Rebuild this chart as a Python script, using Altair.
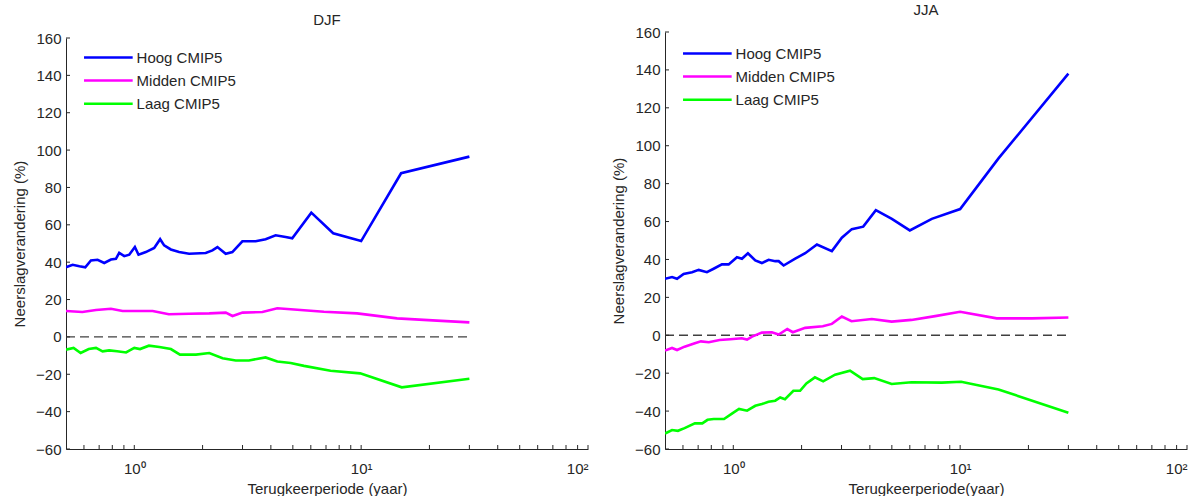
import altair as alt
import pandas as pd

FONT = "Liberation Sans"
TXT = "#262626"

SERIES = ["Hoog CMIP5", "Midden CMIP5", "Laag CMIP5"]
COLORS = ["#0000FF", "#FF00FF", "#00FF00"]

Y_TICKS = [-60, -40, -20, 0, 20, 40, 60, 80, 100, 120, 140, 160]
X_LABEL_TICKS = [1, 10, 100]
X_MINOR_TICKS = [0.6, 0.7, 0.8, 0.9, 1, 2, 3, 4, 5, 6, 7, 8, 9, 10,
                 20, 30, 40, 50, 60, 70, 80, 90, 100]
ZERO_X = [0.5, 30]
ZERO_Y = [0, 0]

# ---- DJF ----
djf_hoog_x = [0.50, 0.535, 0.573, 0.608, 0.644, 0.689, 0.737, 0.789, 0.830, 0.858,
              0.903, 0.950, 1.006, 1.044, 1.124, 1.224, 1.300, 1.354, 1.449, 1.576,
              1.744, 2.065, 2.21, 2.325, 2.529, 2.706, 2.995, 3.428, 3.793, 4.198,
              4.645, 4.97, 6.03, 7.53, 10.0, 15.0, 30.0]
djf_hoog_y = [37.3, 38.6, 37.8, 37.3, 40.9, 41.3, 39.6, 41.4, 41.8, 45.0,
              43.2, 44.0, 48.1, 44.0, 45.4, 47.6, 52.3, 49.0, 46.8, 45.4,
              44.5, 44.9, 46.3, 48.1, 44.5, 45.4, 51.2, 51.2, 52.3, 54.4,
              53.5, 52.8, 66.5, 55.5, 51.3, 87.6, 96.5]

djf_midden_x = [0.50, 0.59, 0.678, 0.789, 0.888, 1.01, 1.205, 1.42, 1.744, 2.14,
                2.53, 2.71, 3.0, 3.67, 4.27, 4.89, 6.85, 9.6, 14.4, 21.6, 30.0]
djf_midden_y = [13.9, 13.3, 14.4, 15.1, 13.9, 13.9, 13.9, 12.1, 12.4, 12.6,
                13.0, 11.2, 13.0, 13.3, 15.3, 14.8, 13.5, 12.6, 9.9, 8.7, 7.8]

djf_laag_x = [0.50, 0.54, 0.58, 0.63, 0.678, 0.725, 0.775, 0.84, 0.92, 1.0,
              1.06, 1.16, 1.29, 1.45, 1.59, 1.87, 2.14, 2.45, 2.8, 3.2,
              3.79, 4.27, 4.89, 5.6, 7.33, 9.9, 15.1, 30.0]
djf_laag_y = [-6.8, -5.9, -8.6, -6.5, -5.9, -7.7, -7.2, -7.7, -8.3, -5.9,
              -6.5, -4.7, -5.4, -6.5, -9.5, -9.5, -8.6, -11.4, -12.6, -12.6,
              -11.0, -13.2, -14.0, -15.5, -18.1, -19.5, -27.0, -22.4]

# ---- JJA ----
jja_hoog_x = [0.50, 0.537, 0.565, 0.604, 0.658, 0.704, 0.765, 0.819, 0.891, 0.954,
              1.038, 1.092, 1.16, 1.25, 1.337, 1.432, 1.531, 1.585, 1.667, 1.875,
              2.075, 2.337, 2.72, 3.01, 3.33, 3.74, 4.25, 5.0, 6.0, 7.5,
              10.0, 14.76, 30.0]
jja_hoog_y = [29.8, 30.7, 29.8, 32.4, 33.3, 34.5, 33.3, 35.1, 37.4, 37.4,
              41.2, 40.4, 43.3, 39.5, 38.1, 39.8, 39.1, 39.1, 36.8, 40.4,
              43.3, 47.9, 44.4, 51.5, 56.0, 57.3, 66.0, 61.4, 55.3, 61.4,
              66.6, 93.3, 138.0]

jja_midden_x = [0.50, 0.537, 0.565, 0.61, 0.677, 0.72, 0.78, 0.87, 0.97, 1.09,
                1.15, 1.21, 1.337, 1.48, 1.585, 1.73, 1.83, 2.075, 2.48, 2.72,
                3.01, 3.32, 4.08, 4.99, 6.1, 7.76, 10.0, 14.5, 20.7, 30.0]
jja_midden_y = [-8.1, -6.7, -7.8, -6.0, -4.2, -3.2, -3.7, -2.5, -2.1, -1.6,
                -2.3, -0.7, 1.4, 1.6, 0.4, 3.3, 1.6, 3.9, 4.8, 6.0,
                9.9, 7.4, 8.6, 7.2, 8.1, 10.1, 12.4, 8.9, 8.9, 9.4]

jja_laag_x = [0.50, 0.537, 0.57, 0.61, 0.677, 0.73, 0.77, 0.82, 0.91, 0.99,
              1.06, 1.15, 1.25, 1.337, 1.43, 1.53, 1.61, 1.69, 1.84, 1.97,
              2.1, 2.29, 2.49, 2.81, 3.27, 3.72, 4.18, 4.99, 6.1, 8.3,
              10.1, 14.76, 30.0]
jja_laag_y = [-51.8, -50.0, -50.4, -49.0, -46.5, -46.5, -44.6, -44.2, -44.2, -41.2,
              -38.9, -39.8, -37.2, -36.3, -35.1, -34.5, -32.8, -33.7, -29.3, -29.3,
              -25.4, -22.2, -24.3, -20.8, -18.7, -23.1, -22.6, -25.7, -24.8, -25.0,
              -24.5, -28.6, -40.9]

W = 522
H = 417


def long_df(parts):
    rows = []
    for name, xs, ys in parts:
        for i, (a, b) in enumerate(zip(xs, ys)):
            rows.append({"serie": name, "x": a, "y": b, "i": i})
    return pd.DataFrame(rows)


def panel(title, title_offset, parts, y_range, legend_y, xtitle):
    df = long_df(parts)
    xs = alt.Scale(type="log", domain=[0.5, 100], nice=False)
    ys = alt.Scale(domain=[-60, 160], nice=False, zero=False, range=y_range)
    xaxis = alt.Axis(values=X_LABEL_TICKS,
                     labelExpr="datum.value == 1 ? '10\u2070' : datum.value == 10 ? '10\u00b9' : '10\u00b2'",
                     grid=False, ticks=False, tickSize=0, domainColor=TXT,
                     labelFontSize=15, labelPadding=12, labelColor=TXT,
                     title=xtitle, titleFontSize=15, titleFontWeight="normal",
                     titlePadding=5, titleColor=TXT)
    yaxis = alt.Axis(values=Y_TICKS, grid=False, ticks=False, tickSize=0,
                     domainColor=TXT, labelFontSize=15, labelPadding=5,
                     labelColor=TXT, title="Neerslagverandering (%)",
                     titleFontSize=15, titleFontWeight="normal",
                     titlePadding=8, titleColor=TXT)
    legend = alt.Legend(title=None, orient="none", legendX=18, legendY=legend_y,
                        symbolType="M-3,0H3", symbolSize=263,
                        symbolStrokeWidth=2.5, symbolOffset=14.85,
                        labelOffset=18.7, labelFontSize=15, labelFont=FONT,
                        labelColor=TXT, rowPadding=5.1, padding=0)
    zero = alt.Chart(pd.DataFrame({"x": ZERO_X, "y": ZERO_Y})).mark_line(
        color="#404040", strokeDash=[9, 5], strokeWidth=1.3
    ).encode(x=alt.X("x:Q", scale=xs, axis=xaxis), y=alt.Y("y:Q", scale=ys, axis=yaxis))
    lines = alt.Chart(df).mark_line(strokeWidth=2.6, clip=True).encode(
        x=alt.X("x:Q", scale=xs, axis=xaxis),
        y=alt.Y("y:Q", scale=ys, axis=yaxis),
        color=alt.Color("serie:N", scale=alt.Scale(domain=SERIES, range=COLORS),
                        legend=legend, sort=SERIES),
        order="i:Q",
    )
    ytick = alt.Chart(pd.DataFrame({"y": Y_TICKS})).mark_rule(
        color=TXT, strokeWidth=1
    ).encode(y=alt.Y("y:Q", scale=ys, axis=yaxis), x=alt.value(0), x2=alt.value(4))
    xtick = alt.Chart(pd.DataFrame({"x": X_MINOR_TICKS})).mark_rule(
        color=TXT, strokeWidth=1
    ).encode(x=alt.X("x:Q", scale=xs, axis=xaxis), y=alt.value(H), y2=alt.value(H - 4))
    return alt.layer(zero, lines, ytick, xtick).properties(
        width=W, height=H,
        title=alt.TitleParams(title, offset=title_offset, baseline="bottom",
                              frame="group",
                              fontSize=15, fontWeight="normal", font=FONT,
                              color=TXT, anchor="middle"),
    )


left = panel("DJF", -12,
             [("Hoog CMIP5", djf_hoog_x, djf_hoog_y),
              ("Midden CMIP5", djf_midden_x, djf_midden_y),
              ("Laag CMIP5", djf_laag_x, djf_laag_y)],
             [H, 6], 16, "Terugkeerperiode (yaar)")
right = panel("JJA", -8,
              [("Hoog CMIP5", jja_hoog_x, jja_hoog_y),
               ("Midden CMIP5", jja_midden_x, jja_midden_y),
               ("Laag CMIP5", jja_laag_x, jja_laag_y)],
              [H, 0], 12, "Terugkeerperiode(yaar)")

chart = alt.hconcat(left, right, spacing=22).resolve_scale(
    color="independent").resolve_legend(color="independent").configure_view(
    stroke=None).configure_axis(labelFont=FONT, titleFont=FONT).configure_legend(
    labelFont=FONT).properties(padding={"left": 12, "top": 3, "right": 5, "bottom": 0})

chart.save("out.html", embed_options={"renderer": "svg", "actions": False})
